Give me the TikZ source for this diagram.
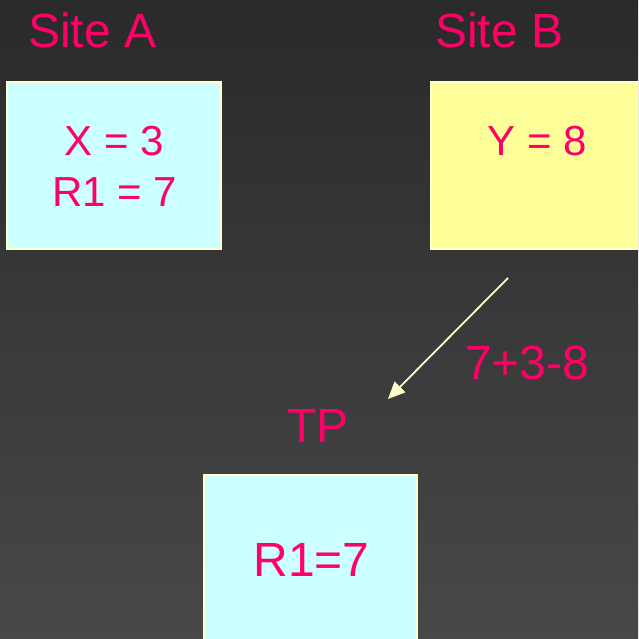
\documentclass[tikz,border=0pt]{standalone}
\usepackage{fontspec}
\setmainfont{Liberation Sans}
\usetikzlibrary{arrows.meta}
\definecolor{txt}{HTML}{FF0066}
\definecolor{cyanbox}{HTML}{CCFFFF}
\definecolor{yelbox}{HTML}{FFFF99}
\definecolor{edge}{HTML}{FFFFCC}
\definecolor{bgtop}{HTML}{2A2A2A}
\definecolor{bgbot}{HTML}{484848}
\tikzset{
  box/.style={draw=edge, line width=1.2pt, inner sep=0pt},
  big/.style={text=txt, inner sep=0pt, font=\fontsize{48}{57}\selectfont},
  val/.style={text=txt, inner sep=0pt, font=\fontsize{42}{51}\selectfont},
  link/.style={draw=edge, line width=1.8pt, -{Triangle[length=17pt,width=15pt]}}
}
\begin{document}
\begin{tikzpicture}[x=1pt,y=1pt]
\useasboundingbox (0,0) rectangle (638,639);
\clip (0,0) rectangle (638,639);
\shade[top color=bgtop, bottom color=bgbot] (0,0) rectangle (638,639);
% boxes
\node[box, fill=cyanbox, minimum width=214pt, minimum height=167pt] (boxA) at (114,473.5) {};
\node[box, fill=yelbox, minimum width=214pt, minimum height=167pt] (boxB) at (538,473.5) {};
\node[box, fill=cyanbox, minimum width=213pt, minimum height=170pt] (boxT) at (310.5,79) {};
% titles
\node[big, anchor=base west] (siteA) at (28,591) {Site A};
\node[big, anchor=base west] (siteB) at (435,591) {Site B};
\node[big, anchor=base] (tp) at (318,196) {TP};
\node[big, anchor=base west] (expr) at (465,259) {7+3-8};
% values
\node[val, anchor=base] (x3) at (114,483) {X = 3};
\node[val, anchor=base] (r1a) at (114.5,432) {R1 = 7};
\node[val, anchor=base] (y8) at (537.5,483) {Y = 8};
\node[big, anchor=base] (r1t) at (311.5,62) {R1=7};
% arrow
\coordinate (from) at (508,361);
\coordinate (to) at (388,240);
\draw[link] (from) -- (to);
\end{tikzpicture}
\end{document}
